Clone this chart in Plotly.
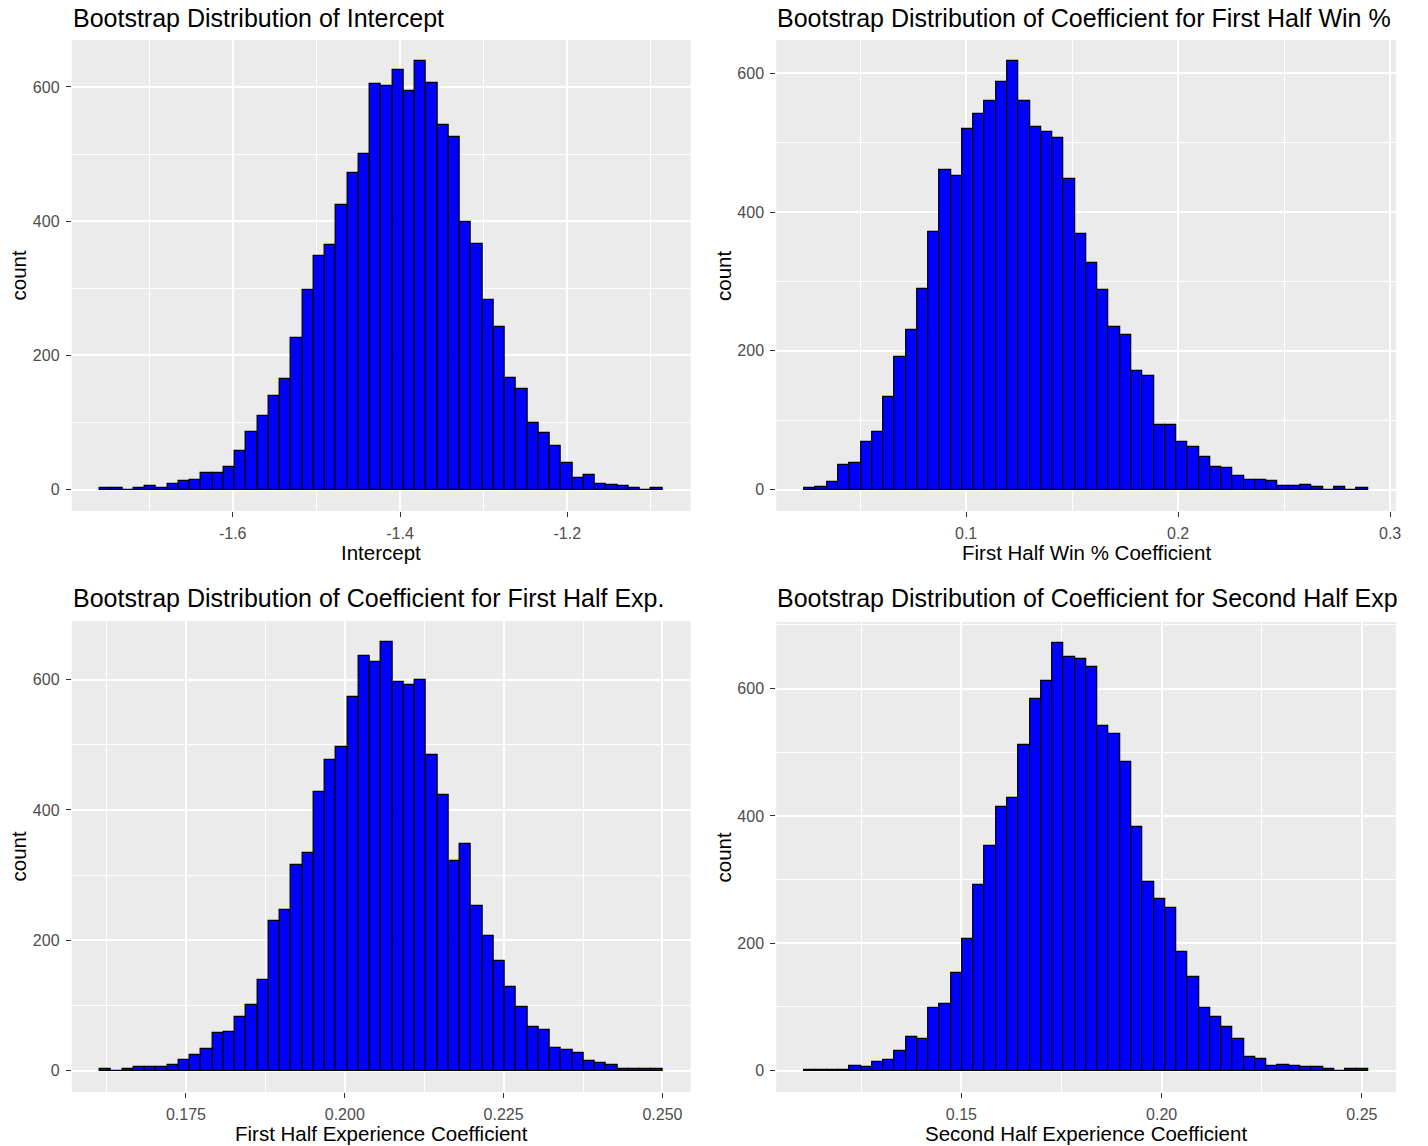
import plotly.graph_objects as go

# Bootstrap distributions of the four model coefficients (50 bins each)
# counts

intercept_counts = [2, 2, 0, 2, 5, 3, 9, 13, 15, 25,
                    25, 34, 57, 86, 110, 139, 165, 226, 298, 348,
                    364, 424, 472, 500, 604, 602, 625, 594, 638, 606,
                    543, 526, 398, 366, 282, 242, 167, 150, 99, 84,
                    65, 40, 17, 22, 9, 7, 5, 3, 0, 2]
intercept_bin_start = -1.7588
intercept_bin_width = 0.01345

win_counts = [2, 4, 11, 35, 39, 69, 83, 133, 191, 230,
              289, 371, 460, 452, 519, 541, 560, 588, 617, 560,
              523, 515, 507, 448, 368, 326, 287, 235, 223, 171,
              163, 93, 93, 69, 62, 47, 33, 31, 19, 14,
              14, 12, 5, 5, 7, 4, 0, 4, 0, 2]
win_bin_start = 0.02372
win_bin_width = 0.005316

exp1_counts = [2, 0, 2, 5, 5, 5, 9, 17, 24, 33,
               57, 59, 83, 100, 139, 230, 247, 315, 334, 427,
               477, 496, 573, 636, 627, 657, 597, 592, 599, 484,
               423, 321, 347, 252, 206, 168, 129, 98, 67, 63,
               35, 31, 27, 14, 11, 9, 2, 2, 2, 2]
exp1_bin_start = 0.16145
exp1_bin_width = 0.001771

exp2_counts = [1, 1, 1, 1, 7, 5, 14, 16, 31, 53,
               49, 98, 104, 153, 206, 291, 352, 414, 428, 512,
               583, 612, 671, 649, 647, 634, 541, 528, 485, 383,
               297, 269, 256, 186, 147, 98, 85, 69, 49, 22,
               18, 7, 9, 7, 5, 5, 3, 0, 2, 2]
exp2_bin_start = 0.1108
exp2_bin_width = 0.002814

titles = ["Bootstrap Distribution of Intercept",
          "Bootstrap Distribution of Coefficient for First Half Win %",
          "Bootstrap Distribution of Coefficient for First Half Exp.",
          "Bootstrap Distribution of Coefficient for Second Half Exp"]
x_titles = ["Intercept", "First Half Win % Coefficient",
            "First Half Experience Coefficient", "Second Half Experience Coefficient"]

x_tickvals = [[-1.6, -1.4, -1.2], [0.1, 0.2, 0.3],
              [0.175, 0.2, 0.225, 0.25], [0.15, 0.2, 0.25]]
x_ticktext = [["-1.6", "-1.4", "-1.2"], ["0.1", "0.2", "0.3"],
              ["0.175", "0.200", "0.225", "0.250"], ["0.15", "0.20", "0.25"]]
x_minor = [[-1.7, -1.5, -1.3, -1.1], [0.05, 0.15, 0.25],
           [0.1625, 0.1875, 0.2125, 0.2375], [0.125, 0.175, 0.225]]
y_tickvals = [0, 200, 400, 600]
y_minor = [100, 300, 500, 700]

hists = [(intercept_counts, intercept_bin_start, intercept_bin_width),
         (win_counts, win_bin_start, win_bin_width),
         (exp1_counts, exp1_bin_start, exp1_bin_width),
         (exp2_counts, exp2_bin_start, exp2_bin_width)]

W, H = 1428, 1146
FONT = "Liberation Sans, Arial, sans-serif"

# panel boxes in pixels: left, right, top, bottom
panels = [(72, 693, 40, 511), (779, 1401, 40, 511),
          (72, 693, 621, 1092), (779, 1401, 622, 1092)]


def px(x):
    return x / W


def py(y):
    return 1 - y / H


fig = go.Figure()
annotations = []

for i, (counts, start, width) in enumerate(hists):
    n = "" if i == 0 else str(i + 1)
    centers = [start + width * (k + 0.5) for k in range(len(counts))]
    fig.add_trace(go.Bar(x=centers, y=counts, width=width,
                         marker=dict(color="#0000FF", line=dict(color="black", width=1.2)),
                         xaxis="x" + n, yaxis="y" + n, showlegend=False))

    left, right, top, bottom = panels[i]
    lo, hi = start, start + width * len(counts)
    pad = 0.05 * (hi - lo)
    ymax = max(counts)

    grid = dict(showgrid=True, gridcolor="white", gridwidth=1.6,
                ticks="outside", ticklen=5, tickwidth=1.2, tickcolor="#333333",
                tickfont=dict(family=FONT, size=16, color="#4D4D4D"),
                zeroline=False, showline=False, ticklabelstandoff=3)

    fig.update_layout(**{
        "xaxis" + n: dict(grid, domain=[px(left), px(right)], anchor="y" + n,
                          range=[lo - pad, hi + pad],
                          tickmode="array", tickvals=x_tickvals[i], ticktext=x_ticktext[i],
                          minor=dict(tickvals=x_minor[i], showgrid=True,
                                     gridcolor="white", gridwidth=0.8, ticks="")),
        "yaxis" + n: dict(grid, domain=[py(bottom), py(top)], anchor="x" + n,
                          range=[-0.05 * ymax, 1.05 * ymax],
                          tickmode="array", tickvals=y_tickvals,
                          ticktext=[str(v) for v in y_tickvals],
                          minor=dict(tickvals=y_minor, showgrid=True,
                                     gridcolor="white", gridwidth=0.8, ticks="")),
    })

    title_y = 18 if i < 2 else 598
    annotations.append(dict(text=titles[i], x=px(left - 1), y=py(title_y),
                            xref="paper", yref="paper",
                            xanchor="left", yanchor="middle", showarrow=False,
                            font=dict(family=FONT, size=25, color="black")))
    xt_y = 553 if i < 2 else 1133
    annotations.append(dict(text=x_titles[i], x=px((left + right) / 2), y=py(xt_y),
                            xref="paper", yref="paper",
                            xanchor="center", yanchor="middle", showarrow=False,
                            font=dict(family=FONT, size=20.5, color="black")))
    annotations.append(dict(text="count", x=px(left - 53), y=py((top + bottom) / 2),
                            xref="paper", yref="paper",
                            xanchor="center", yanchor="middle", textangle=-90,
                            showarrow=False,
                            font=dict(family=FONT, size=20.5, color="black")))

fig.update_layout(
    width=W, height=H,
    margin=dict(l=0, r=0, t=0, b=0),
    paper_bgcolor="white",
    plot_bgcolor="#EBEBEB",
    bargap=0,
    annotations=annotations,
    font=dict(family=FONT),
)

fig.write_html("out.html", config={"displayModeBar": False},
               post_script="document.body.style.margin='0';")
